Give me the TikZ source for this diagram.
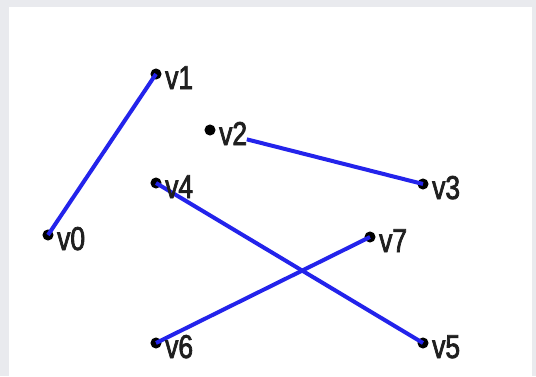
\documentclass[tikz,border=0pt]{standalone}
\usepackage{fontspec}
\setmainfont[FakeStretch=0.8,FakeBold=2.2]{Liberation Sans}
\definecolor{bggray}{RGB}{233,234,238}
\definecolor{edgeblue}{RGB}{35,35,235}
\tikzset{
  vdot/.style={circle,fill=black,draw=black,line width=1pt,inner sep=0pt,minimum size=10pt},
  vlabel/.style={anchor=base west,inner sep=0pt,font=\fontsize{33}{33}\selectfont,text=black!88},
  edge/.style={draw=edgeblue,line width=4pt}
}
\begin{document}
\begin{tikzpicture}[x=1pt,y=1pt]
\useasboundingbox (0,0) rectangle (536,376);
\fill[bggray] (0,0) rectangle (536,376);
\fill[white] (8.5,0) rectangle (532,369);
% vertices (y = 376 - pixel row)
\node[vdot] (v0) at (48,141) {};
\node[vdot] (v1) at (156,302) {};
\node[vdot] (v2) at (210,246) {};
\node[vdot] (v3) at (423,192) {};
\node[vdot] (v4) at (156,193) {};
\node[vdot] (v5) at (423,33) {};
\node[vdot] (v6) at (156,33) {};
\node[vdot] (v7) at (370,139) {};
% edges
\draw[edge] (v1.center) -- (v0.center);
\draw[edge,shorten <=38pt] (v2.center) -- (v3.center);
\draw[edge] (v4.center) -- (v5.center);
\draw[edge] (v6.center) -- (v7.center);
% labels
\foreach \i in {0,...,7}{
  \node[vlabel] (l\i) at ([shift={(9pt,-15pt)}]v\i.center) {v\i};
}
\end{tikzpicture}
\end{document}
